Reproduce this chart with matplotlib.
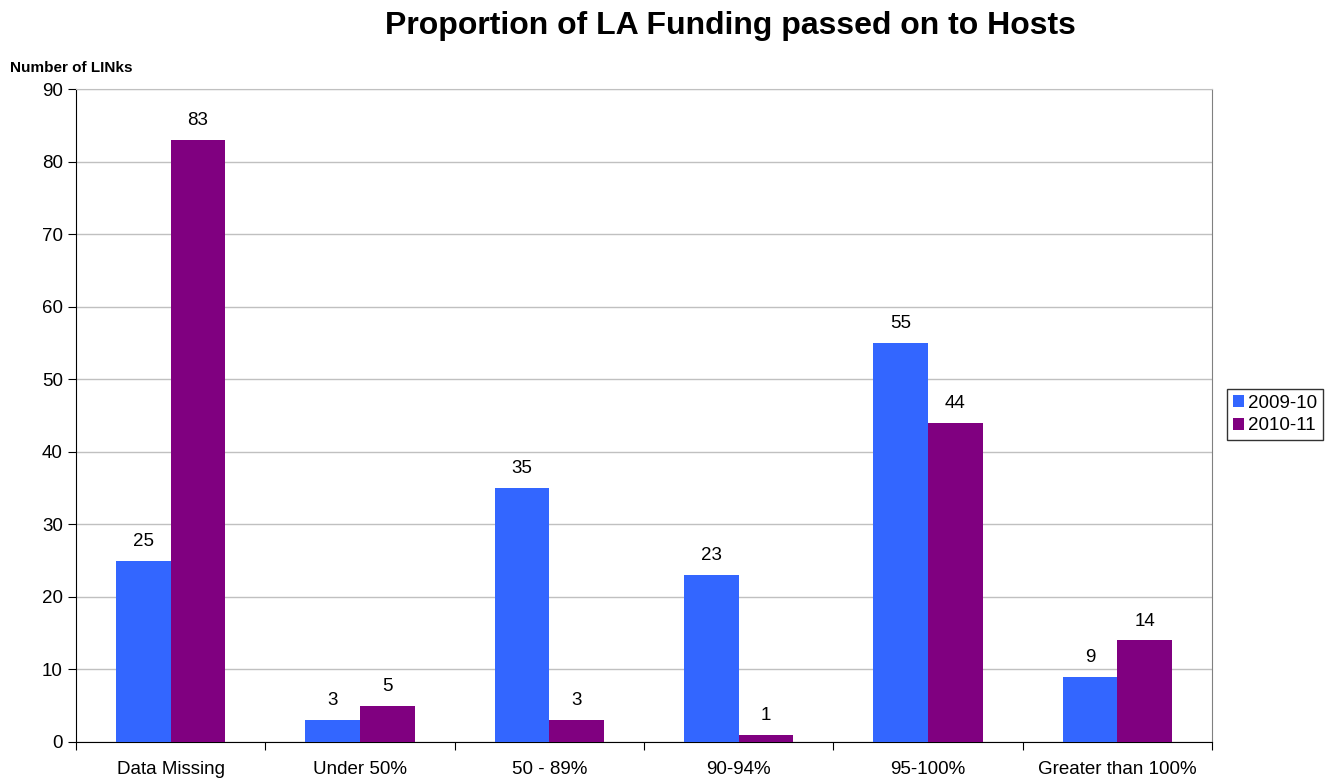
import matplotlib.pyplot as plt
import numpy as np

plt.rcParams['font.family'] = ['Liberation Sans', 'DejaVu Sans']

categories = ['Data Missing', 'Under 50%', '50 - 89%', '90-94%', '95-100%', 'Greater than 100%']
series_names = ['2009-10', '2010-11']
values_0910 = [25, 3, 35, 23, 55, 9]
values_1011 = [83, 5, 3, 1, 44, 14]
colors = ['#3366FF', '#800080']

fig = plt.figure(figsize=(13.31, 7.78), dpi=100)
ax = fig.add_axes([0.0571, 0.0463, 0.8535, 0.8393])

x = np.arange(len(categories))
w = 0.288
b1 = ax.bar(x - w / 2, values_0910, w, color=colors[0], label=series_names[0], zorder=3)
b2 = ax.bar(x + w / 2, values_1011, w, color=colors[1], label=series_names[1], zorder=3)
for bars in (b1, b2):
    for r in bars:
        ax.text(r.get_x() + r.get_width() / 2, r.get_height() + 1.5, str(int(r.get_height())),
                ha='center', va='bottom', fontsize=13.5)

ax.set_xlim(-0.5, len(categories) - 0.5)
ax.set_ylim(0, 90)
ax.set_yticks(range(0, 91, 10))
ax.yaxis.grid(True, color='#c0c0c0', linewidth=1, zorder=0)
ax.set_xticks(np.arange(-0.5, len(categories), 1))
ax.set_xticklabels([])
ax.set_xticks(x, minor=True)
ax.set_xticklabels(categories, minor=True, fontsize=13.5)
ax.tick_params(axis='x', which='minor', length=0, pad=14)
ax.tick_params(axis='x', which='major', length=6, direction='out', color='black')
ax.tick_params(axis='y', length=6, direction='out', labelsize=13.5)

ax.spines['left'].set_color('black')
ax.spines['bottom'].set_color('black')
ax.spines['right'].set_color('#808080')
ax.spines['top'].set_color('#c0c0c0')

fig.text(0.549, 0.966, 'Proportion of LA Funding passed on to Hosts', ha='center', va='center',
         fontsize=23, fontweight='bold')
fig.text(0.0075, 0.912, 'Number of LINks', ha='left', va='center', fontsize=11, fontweight='bold')

leg = fig.legend(loc='center left', bbox_to_anchor=(0.922, 0.467), fontsize=13.5,
                 frameon=True, fancybox=False, edgecolor='black', handlelength=0.6,
                 handleheight=0.6, handletextpad=0.2, borderpad=0.3, labelspacing=0.3,
                 borderaxespad=0)
leg.get_frame().set_linewidth(1)

fig.savefig('out.png', dpi=100)
